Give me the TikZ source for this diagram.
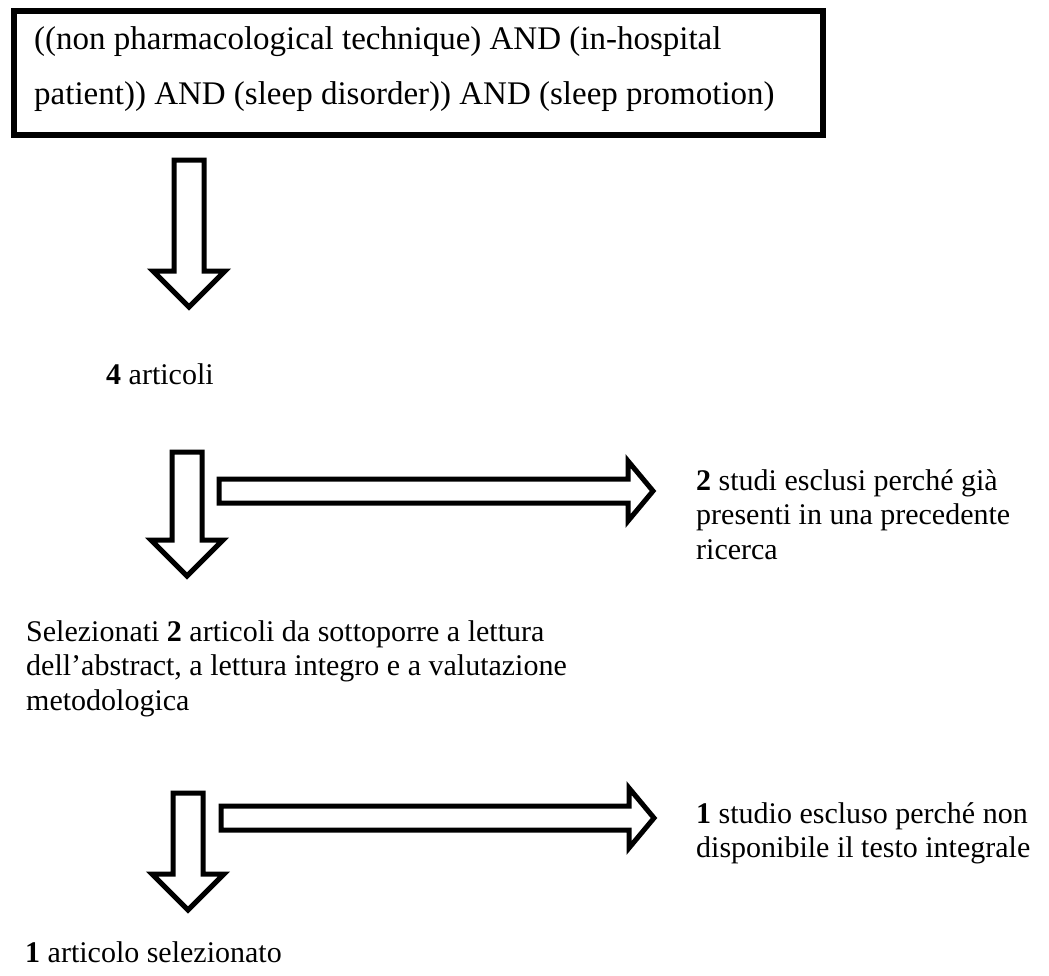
\documentclass[tikz,border=0pt]{standalone}
\usepackage{fontspec}
\setmainfont{Liberation Serif}
\tikzset{
  blockarrow/.style={draw=black, line width=5pt, fill=white, line join=miter},
  txt/.style={font=\fontsize{30}{34.5}\selectfont, align=left, inner sep=0pt, anchor=base west},
  querybox/.style={draw=black, line width=6pt, inner sep=0pt, anchor=north west},
}
\newcommand\dnarrow[4]{% cx, top, shoulder, tip
  \draw[blockarrow] (#1-15,#2) -- (#1+15,#2) -- (#1+15,#3) -- (#1+36,#3) -- (#1,#4) -- (#1-36,#3) -- (#1-15,#3) -- cycle;}
\newcommand\rtarrow[4]{% left, cy, shoulder, tip
  \draw[blockarrow] (#1,#2-12) -- (#3,#2-12) -- (#3,#2-30) -- (#4,#2) -- (#3,#2+30) -- (#3,#2+12) -- (#1,#2+12) -- cycle;}
\begin{document}
\begin{tikzpicture}[x=1pt,y=-1pt]
\useasboundingbox (0,0) rectangle (1049,975);
\node[querybox, minimum width=809pt, minimum height=124pt] (box) at (11,8) {};
\node[txt, font=\fontsize{33}{55}\selectfont] (query) at (34,104)
  {((non pharmacological technique) AND (in-hospital\\patient)) AND (sleep disorder)) AND (sleep promotion)};
\dnarrow{189}{160}{271}{307}
\node[txt] (n4) at (106,384) {\textbf{4} articoli};
\dnarrow{187}{452}{540}{576}
\rtarrow{219}{491}{628}{653}
\node[txt] (excl2) at (696,559) {\textbf{2} studi esclusi perché già\\presenti in una precedente\\ricerca};
\node[txt] (sel2) at (26,710) {Selezionati \textbf{2} articoli da sottoporre a lettura\\dell’abstract, a lettura integro e a valutazione\\metodologica};
\dnarrow{188}{793}{874}{910}
\rtarrow{221}{818}{629}{654}
\node[txt] (excl1) at (696,857.5) {\textbf{1} studio escluso perché non\\disponibile il testo integrale};
\node[txt] (sel1) at (25,962) {\textbf{1} articolo selezionato};
\end{tikzpicture}
\end{document}
